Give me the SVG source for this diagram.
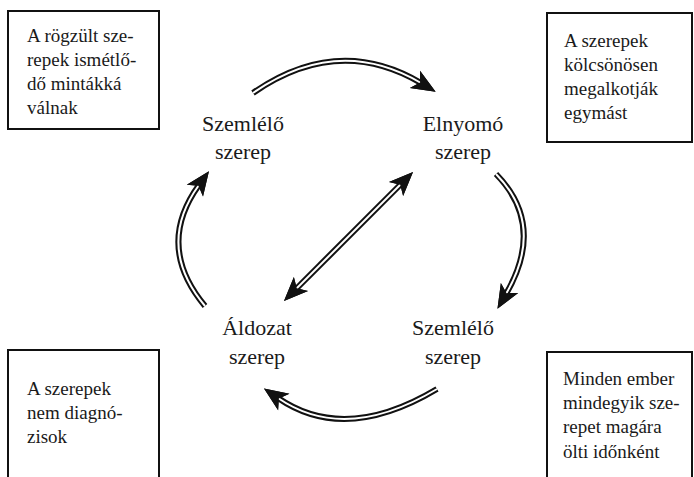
<svg xmlns="http://www.w3.org/2000/svg" width="694" height="477" viewBox="0 0 694 477">
<style>
  .box{fill:#fff;stroke:#111;stroke-width:2}
  .bt{font-size:19px;fill:#1a1a1a}
  .nt{font-size:22px;fill:#1a1a1a;text-anchor:middle}
  .outer{fill:none;stroke:#111;stroke-width:6}
  .inner{fill:none;stroke:#fff;stroke-width:2}
</style>
<defs>
  <marker id="head" markerUnits="userSpaceOnUse" markerWidth="36" markerHeight="36" viewBox="-11 -18 36 36" refX="0" refY="0" orient="auto-start-reverse">
    <path d="M17,0 L-7,-10 L-1,0 L-7,10 Z" fill="#111"/>
  </marker>
</defs>
<rect width="694" height="477" fill="#fff"/>

<g font-family="'Liberation Serif', 'DejaVu Serif', serif">
<g id="note-top-left">
  <rect class="box" x="8" y="11" width="151" height="118"/>
  <text class="bt" x="27" y="42">A rögzült sze-</text>
  <text class="bt" x="27" y="66">repek ismétlő-</text>
  <text class="bt" x="27" y="90">dő mintákká</text>
  <text class="bt" x="27" y="114">válnak</text>
</g>
<g id="note-top-right">
  <rect class="box" x="547" y="13" width="145" height="129"/>
  <text class="bt" x="564" y="47">A szerepek</text>
  <text class="bt" x="564" y="71">kölcsönösen</text>
  <text class="bt" x="564" y="95">megalkotják</text>
  <text class="bt" x="564" y="119">egymást</text>
</g>
<g id="note-bottom-left">
  <rect class="box" x="8" y="350" width="151" height="140"/>
  <text class="bt" x="27" y="395">A szerepek</text>
  <text class="bt" x="27" y="419">nem diagnó-</text>
  <text class="bt" x="27" y="443">zisok</text>
</g>
<g id="note-bottom-right">
  <rect class="box" x="547" y="352" width="145" height="140"/>
  <text class="bt" x="563" y="385">Minden ember</text>
  <text class="bt" x="563" y="409">mindegyik sze-</text>
  <text class="bt" x="563" y="433">repet magára</text>
  <text class="bt" x="563" y="458">ölti időnként</text>
</g>

<g id="node-szemlelo-top">
  <text class="nt" x="243" y="131">Szemlélő</text>
  <text class="nt" x="243" y="159">szerep</text>
</g>
<g id="node-elnyomo">
  <text class="nt" x="463" y="131">Elnyomó</text>
  <text class="nt" x="463" y="159">szerep</text>
</g>
<g id="node-szemlelo-bottom">
  <text class="nt" x="453" y="335">Szemlélő</text>
  <text class="nt" x="453" y="364">szerep</text>
</g>
<g id="node-aldozat">
  <text class="nt" x="257" y="335">Áldozat</text>
  <text class="nt" x="257" y="364">szerep</text>
</g>
</g>

<g id="connectors">
  <path class="outer" d="M253,93 Q338,34 421,83" marker-end="url(#head)"/>
  <path class="inner" d="M253,93 Q338,34 421,83" marker-end="url(#head)"/>
  <path class="outer" d="M496,174 Q546,225 506,294" marker-end="url(#head)"/>
  <path class="inner" d="M496,174 Q546,225 506,294" marker-end="url(#head)"/>
  <path class="outer" d="M437,389 Q345,444 278,398" marker-end="url(#head)"/>
  <path class="inner" d="M437,389 Q345,444 278,398" marker-end="url(#head)"/>
  <path class="outer" d="M205,306 Q155,246 199,185" marker-end="url(#head)"/>
  <path class="inner" d="M205,306 Q155,246 199,185" marker-end="url(#head)"/>
  <path class="outer" d="M296,289 L401,184" marker-start="url(#head)" marker-end="url(#head)"/>
  <path class="inner" d="M296,289 L401,184" marker-start="url(#head)" marker-end="url(#head)"/>
</g>
</svg>
